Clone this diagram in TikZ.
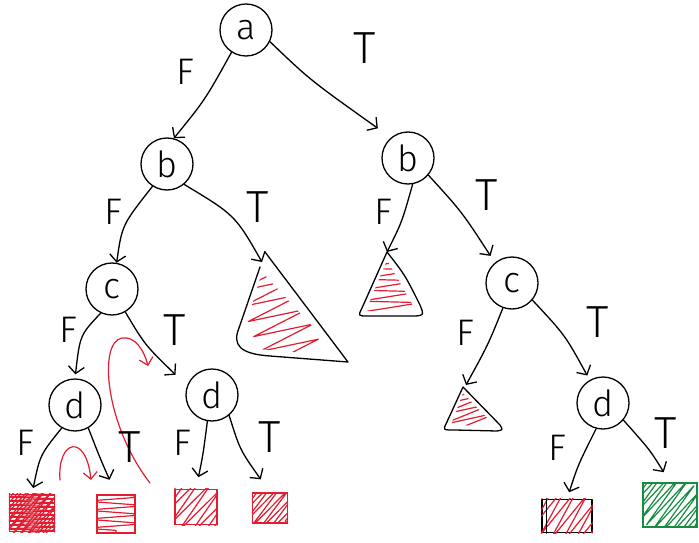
\documentclass[tikz,border=0pt]{standalone}
\usepackage{fontspec}
\setmainfont{Fira Sans Light}
\usetikzlibrary{arrows.meta,decorations.pathmorphing}

\definecolor{pen}{RGB}{228,28,48}
\definecolor{leafgreen}{RGB}{22,140,62}

\tikzset{
  ink/.style={line width=1.3pt, line cap=round, line join=round},
  dnode/.style={draw, circle, ink, minimum size=52pt, inner sep=0pt,
                font=\fontsize{36}{36}\selectfont},
  edge/.style={ink, -{Straight Barb[length=7pt,width=16pt,line width=1.3pt]}},
  redarrow/.style={pen, line width=1.2pt, line cap=round,
                   -{Straight Barb[length=7pt,width=14pt,line width=1.2pt]}},
  lab/.style={inner sep=0pt, font=\fontsize{37}{37}\selectfont},
  tlab/.style={inner sep=0pt, font=\fontsize{45}{45}\selectfont},
  leaf/.style={draw=pen, line width=1.2pt, inner sep=0pt},
  scribble/.style={pen, line width=1.2pt, line join=round, decorate,
                   decoration={zigzag, segment length=#1, amplitude=30pt}},
  scribble/.default=8pt,
}

\begin{document}
\begin{tikzpicture}[x=1pt, y=-1pt]
\useasboundingbox (0,0) rectangle (699,543);

% decision nodes
\node[dnode] (a)   at (246,30)  {a};
\node[dnode] (bL)  at (167,164) {b};
\node[dnode] (bR)  at (408,158) {b};
\node[dnode] (cL)  at (112,289) {c};
\node[dnode] (cR)  at (512,283) {c};
\node[dnode] (dLL) at (75,405)  {d};
\node[dnode] (dLR) at (212,395) {d};
\node[dnode] (dR)  at (603,403) {d};

% leaves
\node[leaf, minimum width=45pt, minimum height=37pt] (s1) at (32,513) {};
\node[leaf, minimum width=38pt, minimum height=38pt] (s2) at (116,514) {};
\node[leaf, minimum width=42pt, minimum height=35pt] (s3) at (196,507) {};
\node[leaf, minimum width=35pt, minimum height=30pt] (s4) at (270,508) {};
\node[draw, ink, minimum width=50pt, minimum height=33pt, inner sep=0pt] (s5) at (567,516) {};
\node[draw=leafgreen, line width=1.2pt, minimum width=54pt, minimum height=44pt, inner sep=0pt] (g) at (670,505) {};

% tips of the subtrees
\coordinate (t1) at (262,262);
\coordinate (t2) at (387,252);
\coordinate (t3) at (466,385);

% subtree triangles
\draw[ink] (265,252) -- (348,362) -- (270,356)
  .. controls (240,354) and (232,345) .. (239,328) -- (260,267);
\draw[ink] (387,252) -- (362,308) .. controls (358,316) .. (368,316)
  -- (416,316) .. controls (424,315) .. (420,305) .. controls (405,275) .. (387,252);
\draw[ink] (463,387) -- (446,424) .. controls (443,430) .. (455,430)
  -- (497,431) .. controls (503,430) .. (500,425) -- (463,387);

% red scribbles
\begin{scope}
  \clip (262,272) -- (340,356) -- (270,350) .. controls (245,349) and (240,342) .. (245,328) -- cycle;
  \draw[scribble=16pt] (262,270) -- (296,366);
\end{scope}
\begin{scope}
  \clip (387,260) -- (367,308) -- (367,311) -- (416,311) -- cycle;
  \draw[scribble=11pt] (388,258) -- (392,318);
\end{scope}
\begin{scope}
  \clip (463,393) -- (451,425) -- (495,426) -- cycle;
  \draw[scribble=10pt] (461,390) -- (474,432);
\end{scope}
\begin{scope}
  \clip (s1.south west) rectangle (s1.north east);
  \draw[scribble=4pt] (s1.north) -- (s1.south);
  \draw[scribble=6pt] (s1.north west) -- (s1.south east);
\end{scope}
\begin{scope}
  \clip (s2.south west) rectangle (s2.north east);
  \draw[scribble=9pt] (s2.north) -- (s2.south);
\end{scope}
\begin{scope}
  \clip (s3.south west) rectangle (s3.north east);
  \draw[scribble=11pt] (s3.north west) -- (s3.south east);
\end{scope}
\begin{scope}
  \clip (s4.south west) rectangle (s4.north east);
  \draw[scribble=8pt] (s4.north west) -- (s4.south east);
\end{scope}
\begin{scope}
  \clip (s5.south west) rectangle (s5.north east);
  \draw[scribble=11pt] (s5.north west) -- (s5.south east);
\end{scope}
\begin{scope}
  \clip (g.south west) rectangle (g.north east);
  \draw[scribble=8pt, leafgreen] (g.north west) -- (g.south east);
\end{scope}
\draw[ink] ([xshift=5pt]s5.north west) -- ([xshift=5pt]s5.south west);

% branches
\draw[edge] (a.237) .. controls (205,100) .. (bL.75);
\draw[edge, shorten >=16pt] (a.-26) .. controls (310,80) .. (bR.130);
\draw[edge] (bL.237) .. controls (122,225) .. (cL.80);
\draw[edge] (bL.-50) .. controls (235,215) .. (t1);
\draw[edge] (bR.-80) .. controls (402,222) .. (t2);
\draw[edge, shorten >=8pt] (bR.-40) .. controls (462,212) .. (cR.130);
\draw[edge, shorten >=4pt] (cL.245) .. controls (80,335) .. (dLL.90);
\draw[edge, shorten >=16pt] (cL.-60) .. controls (145,345) .. (dLR.160);
\draw[edge] (cR.-110) .. controls (488,345) .. (t3);
\draw[edge, shorten >=5pt] (cR.-40) .. controls (565,335) .. (dR.120);
\draw[edge, shorten >=6pt] (dLL.-120) .. controls (40,455) .. (s1.north);
\draw[edge, shorten >=16pt] (dLL.-60) .. controls (100,458) .. (s2.north);
\draw[edge, shorten >=12pt] (dLR.-100) .. controls (203,455) .. (s3.north);
\draw[edge, shorten >=16pt] (dLR.-50) .. controls (240,450) .. (s4.north);
\draw[edge, shorten >=7pt] (dR.-105) .. controls (578,465) .. (s5.north);
\draw[edge, shorten >=12pt] (dR.-40) .. controls (650,450) .. (g.north);

% red annotation arrows (free strokes)
\coordinate (r1s) at (150,483);
\coordinate (r1e) at (148,366);
\coordinate (r2s) at (60,480);
\coordinate (r2e) at (91,480);
\draw[redarrow] (r1s) .. controls (105,425) and (98,342) .. (122,338)
  .. controls (135,336) and (144,350) .. (r1e);
\draw[redarrow] (r2s) .. controls (57,440) and (86,432) .. (r2e);

% branch labels
\node[lab]  (l1)  at (185,72)  {F};
\node[tlab] (l2)  at (365,48)  {T};
\node[lab]  (l3)  at (113,212) {F};
\node[tlab] (l4)  at (258,207) {T};
\node[lab]  (l5)  at (383,212) {F};
\node[tlab] (l6)  at (487,195) {T};
\node[lab]  (l7)  at (68,330)  {F};
\node[tlab] (l8)  at (175,330) {T};
\node[lab]  (l9)  at (465,333) {F};
\node[tlab] (l10) at (598,322) {T};
\node[lab]  (l11) at (25,443)  {F};
\node[tlab] (l12) at (130,447) {T};
\node[lab]  (l13) at (182,443) {F};
\node[tlab] (l14) at (270,437) {T};
\node[lab]  (l15) at (557,448) {F};
\node[tlab] (l16) at (666,433) {T};
\end{tikzpicture}
\end{document}
